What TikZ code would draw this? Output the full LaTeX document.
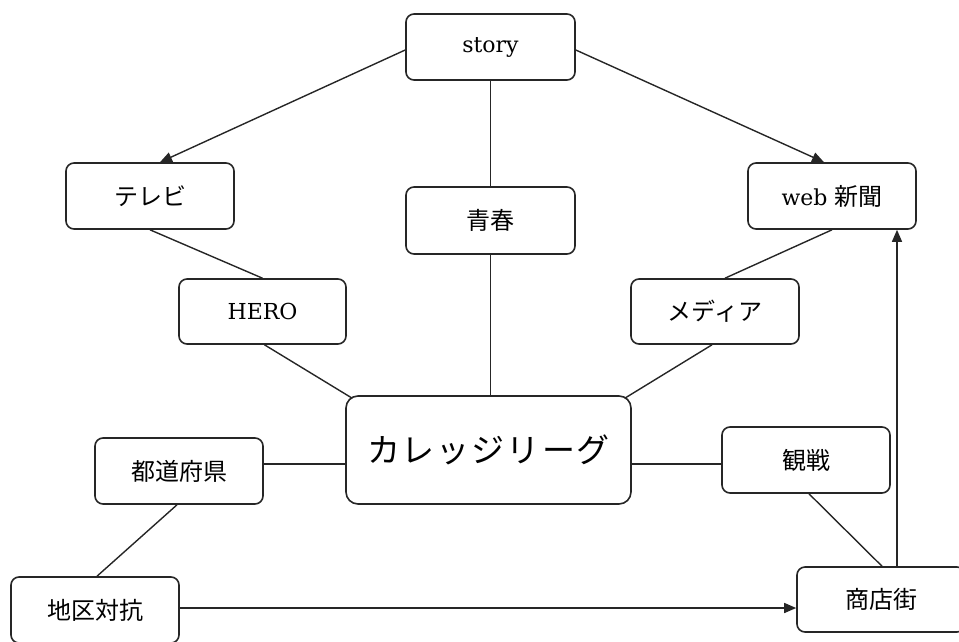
\documentclass[tikz,border=0pt]{standalone}
\usepackage{fontspec}
\setmainfont{DejaVu Serif}
\newfontfamily\jp{Noto Sans CJK JP}
\usetikzlibrary{arrows.meta}
\tikzset{
  box/.style={draw=black!85, line width=1.6pt, rounded corners=8pt, fill=white,
    minimum width=168pt, minimum height=66pt, inner sep=0pt, font=\fontsize{22}{25}\selectfont},
  jtext/.style={font=\fontsize{24}{27}\selectfont\jp},
  conn/.style={draw=black!85, line width=1.4pt},
  arr/.style={conn, -{Triangle[length=12pt,width=10pt]}}
}
\begin{document}
\begin{tikzpicture}[x=1pt,y=-1pt]
\useasboundingbox (0,0) rectangle (959,641);
\node[box, minimum width=169pt] (story) at (490.5,47) {story};
\node[box, jtext] (tv) at (150,196) {テレビ};
\node[box, jtext, minimum width=169pt, minimum height=67pt] (seishun) at (490.5,220.5) {青春};
\node[box] (web) at (832,196) {web {\fontsize{24}{27}\selectfont\jp 新聞}};
\node[box, minimum width=167pt, minimum height=65pt] (hero) at (262.5,311.5) {HERO};
\node[box, jtext, minimum height=65pt] (media) at (715,311.5) {メディア};
\node[box, minimum width=285pt, minimum height=108pt, rounded corners=12pt, font=\fontsize{33}{36}\selectfont\jp] (college) at (488.5,450)
  {カ\hspace{2pt}レ\hspace{2pt}ッ\hspace{2pt}ジ\hspace{2pt}リ\hspace{2pt}ー\hspace{2pt}グ};
\node[box, jtext] (todo) at (179,471) {都道府県};
\node[box, jtext] (kansen) at (806,460) {観戦};
\node[box, jtext] (chiku) at (95,610) {地区対抗};
\node[box, jtext, minimum height=65pt] (shoten) at (881,599.5) {商店街};

\draw[arr] ([yshift=-3pt]story.west) -- ([xshift=10pt]tv.north);
\draw[arr] ([yshift=-3pt]story.east) -- ([xshift=-8pt]web.north);
\draw[conn] (story.south) -- (seishun.south |- seishun.north);
\draw[conn] (seishun.south) -- (seishun.south |- college.north);
\draw[conn] (tv.south) -- (hero.north);
\draw[conn] ([xshift=2pt]hero.south) -- ([xshift=7pt,yshift=-3pt]college.north west);
\draw[conn] (web.south) -- ([xshift=10pt]media.north);
\draw[conn] ([xshift=-3pt]media.south) -- ([xshift=-7pt,yshift=-3pt]college.north east);
\draw[conn] ([yshift=7pt]todo.east) -- ([yshift=7pt]todo.east -| college.west);
\draw[conn] ([yshift=-14pt]college.east) -- ([yshift=-14pt]college.east -| kansen.west);
\draw[conn] ([xshift=-2pt]todo.south) -- ([xshift=2pt]chiku.north);
\draw[arr] ([yshift=2pt]chiku.east) -- ([yshift=2pt]chiku.east -| shoten.west);
\draw[conn] ([xshift=3pt]kansen.south) -- ([xshift=1pt]shoten.north);
\draw[arr] ([xshift=16pt]shoten.north) -- ([xshift=16pt]shoten.north |- web.south);
\end{tikzpicture}
\end{document}
